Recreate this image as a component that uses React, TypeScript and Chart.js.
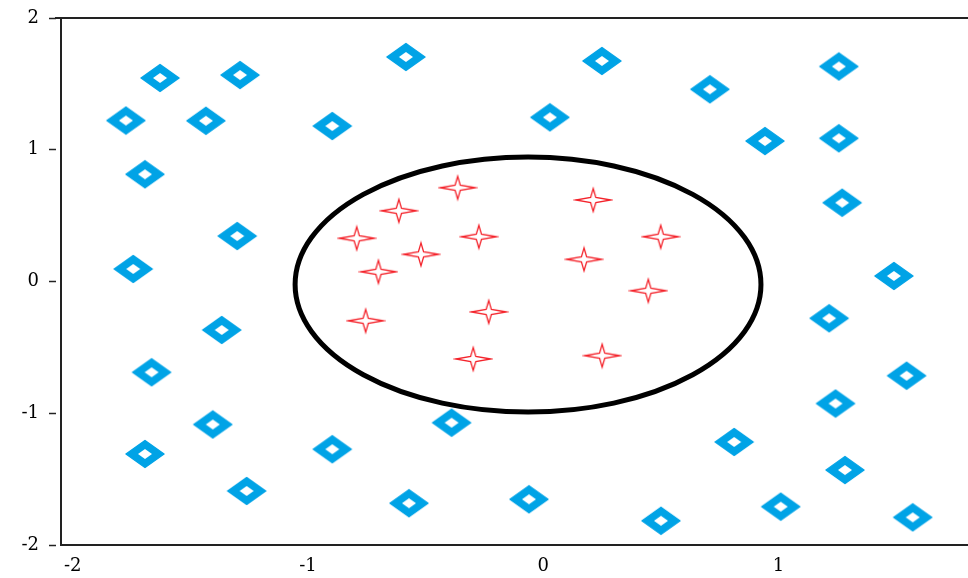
import React, { useEffect, useRef } from "react";
import { Chart, registerables } from "chart.js";

Chart.register(...registerables);

const X_MIN = -2.05;
const X_MAX = 1.805;
const Y_MIN = -2;
const Y_MAX = 2;
const X_TICKS = [-2, -1, 0, 1];
const Y_TICKS = [-2, -1, 0, 1, 2];

const OUTSIDE_X = [
  -1.629, -1.289, -0.584, 0.249, 1.256, -1.774, -1.434, -0.897, 0.028, 0.708,
  0.942, 1.256, -1.693, -1.301, 1.27, -1.743, 1.49, -1.367, 1.215, -1.665,
  1.544, 1.242, -1.405, -0.39, -1.693, -0.897, 0.811, 1.282, -1.261, -0.571,
  -0.061, 0.5, 1.009, 1.57,
];
const OUTSIDE_Y = [
  1.545, 1.567, 1.704, 1.674, 1.632, 1.222, 1.22, 1.18, 1.246, 1.459,
  1.066, 1.087, 0.814, 0.345, 0.598, 0.095, 0.042, -0.368, -0.279, -0.689,
  -0.715, -0.926, -1.085, -1.072, -1.309, -1.273, -1.218, -1.431, -1.59, -1.683,
  -1.653, -1.816, -1.709, -1.79,
];

const INSIDE_X = [
  -0.364, -0.614, -0.793, -0.274, -0.52, -0.701, 0.212, 0.499, 0.173, 0.446,
  -0.232, -0.755, -0.298, 0.25,
];
const INSIDE_Y = [
  0.712, 0.537, 0.328, 0.34, 0.206, 0.074, 0.619, 0.34, 0.168, -0.07,
  -0.231, -0.298, -0.588, -0.563,
];

const CIRCLE_CX = -0.065;
const CIRCLE_CY = -0.023;
const CIRCLE_RX = 0.99;
const CIRCLE_RY = 0.968;

const BLUE = "#00a3e6";
const RED = "#f4222a";
const TICK_FONT = { family: "'DejaVu Serif', 'Liberation Serif', serif", size: 18 };

function makeDiamond(): HTMLCanvasElement {
  const c = document.createElement("canvas");
  c.width = 42;
  c.height = 30;
  const g = c.getContext("2d")!;
  const cx = 21, cy = 15;
  g.fillStyle = BLUE;
  g.lineJoin = "round";
  g.strokeStyle = BLUE;
  g.lineWidth = 1.5;
  g.beginPath();
  g.moveTo(cx, cy - 13.5);
  g.lineTo(cx + 19, cy);
  g.lineTo(cx, cy + 13.5);
  g.lineTo(cx - 19, cy);
  g.closePath();
  g.fill();
  g.stroke();
  g.globalCompositeOperation = "destination-out";
  g.beginPath();
  g.moveTo(cx, cy - 5);
  g.lineTo(cx + 7, cy);
  g.lineTo(cx, cy + 5);
  g.lineTo(cx - 7, cy);
  g.closePath();
  g.fill();
  return c;
}

function makeStar(): HTMLCanvasElement {
  const c = document.createElement("canvas");
  c.width = 40;
  c.height = 28;
  const g = c.getContext("2d")!;
  const cx = 20, cy = 14;
  const a = 17.5, b = 11.5, r = 2.6;
  g.strokeStyle = RED;
  g.lineWidth = 1.3;
  g.beginPath();
  g.moveTo(cx + a, cy);
  g.lineTo(cx + r, cy - r);
  g.lineTo(cx, cy - b);
  g.lineTo(cx - r, cy - r);
  g.lineTo(cx - a, cy);
  g.lineTo(cx - r, cy + r);
  g.lineTo(cx, cy + b);
  g.lineTo(cx + r, cy + r);
  g.closePath();
  g.stroke();
  return c;
}

const framePlugin = {
  id: "frame",
  beforeDatasetsDraw(chart: any) {
    const { ctx, scales } = chart;
    const x = scales.x, y = scales.y;
    const cx = x.getPixelForValue(CIRCLE_CX);
    const cy = y.getPixelForValue(CIRCLE_CY);
    const rx = Math.abs(x.getPixelForValue(CIRCLE_CX + CIRCLE_RX) - cx);
    const ry = Math.abs(y.getPixelForValue(CIRCLE_CY + CIRCLE_RY) - cy);
    ctx.save();
    ctx.strokeStyle = "#000";
    ctx.lineWidth = 5;
    ctx.beginPath();
    ctx.ellipse(cx, cy, rx, ry, 0, 0, Math.PI * 2);
    ctx.stroke();
    ctx.restore();
  },
  afterDraw(chart: any) {
    const { ctx, chartArea } = chart;
    ctx.save();
    ctx.strokeStyle = "#222";
    ctx.lineWidth = 2;
    ctx.beginPath();
    ctx.moveTo(chartArea.left - 6, chartArea.top);
    ctx.lineTo(chartArea.right, chartArea.top);
    ctx.stroke();
    ctx.restore();
  },
};

export default function App() {
  const ref = useRef<HTMLCanvasElement | null>(null);

  useEffect(() => {
    if (!ref.current) return;
    const diamond = makeDiamond();
    const star = makeStar();
    const outside = OUTSIDE_X.map((x, i) => ({ x, y: OUTSIDE_Y[i] }));
    const inside = INSIDE_X.map((x, i) => ({ x, y: INSIDE_Y[i] }));

    const chart = new Chart(ref.current, {
      type: "scatter",
      data: {
        datasets: [
          {
            label: "outside",
            data: outside,
            pointStyle: diamond as any,
            pointRadius: 12,
            backgroundColor: BLUE,
            borderColor: BLUE,
          },
          {
            label: "inside",
            data: inside,
            pointStyle: star as any,
            pointRadius: 12,
            backgroundColor: RED,
            borderColor: RED,
          },
        ],
      },
      options: {
        animation: false,
        responsive: false,
        devicePixelRatio: 1,
        layout: { autoPadding: false, padding: { top: 18, left: 0, right: 0, bottom: 0 } },
        plugins: {
          legend: { display: false },
          tooltip: { enabled: false },
        },
        scales: {
          x: {
            type: "linear",
            min: X_MIN,
            max: X_MAX,
            afterBuildTicks: (s: any) => {
              s.ticks = X_TICKS.map((v) => ({ value: v }));
            },
            afterFit: (s: any) => {
              s.height = 33;
              s.paddingLeft = 0;
              s.paddingRight = 0;
            },
            grid: { display: false },
            border: { display: true, color: "#222", width: 2 },
            ticks: {
              padding: 3,
              color: "#000",
              font: TICK_FONT,
              autoSkip: false,
              maxRotation: 0,
              callback: (v: any) => String(v),
            },
          },
          y: {
            type: "linear",
            min: Y_MIN,
            max: Y_MAX,
            afterBuildTicks: (s: any) => {
              s.ticks = Y_TICKS.map((v) => ({ value: v }));
            },
            afterFit: (s: any) => {
              s.width = 61;
              s.paddingTop = 0;
              s.paddingBottom = 0;
            },
            grid: {
              display: true,
              drawOnChartArea: false,
              drawTicks: true,
              tickLength: 12,
              tickColor: "#222",
              tickWidth: 1.5,
              tickBorderDash: [7, 30],
            },
            border: { display: true, color: "#222", width: 2 },
            ticks: {
              padding: 10,
              color: "#000",
              font: TICK_FONT,
              autoSkip: false,
              callback: (v: any) => String(v),
            },
          },
        },
      },
      plugins: [framePlugin],
    });

    return () => chart.destroy();
  }, []);

  return (
    <div style={{ position: "fixed", left: 0, top: 0, width: 968, height: 578, background: "#fff" }}>
      <canvas ref={ref} width={968} height={578} style={{ display: "block" }} />
    </div>
  );
}
